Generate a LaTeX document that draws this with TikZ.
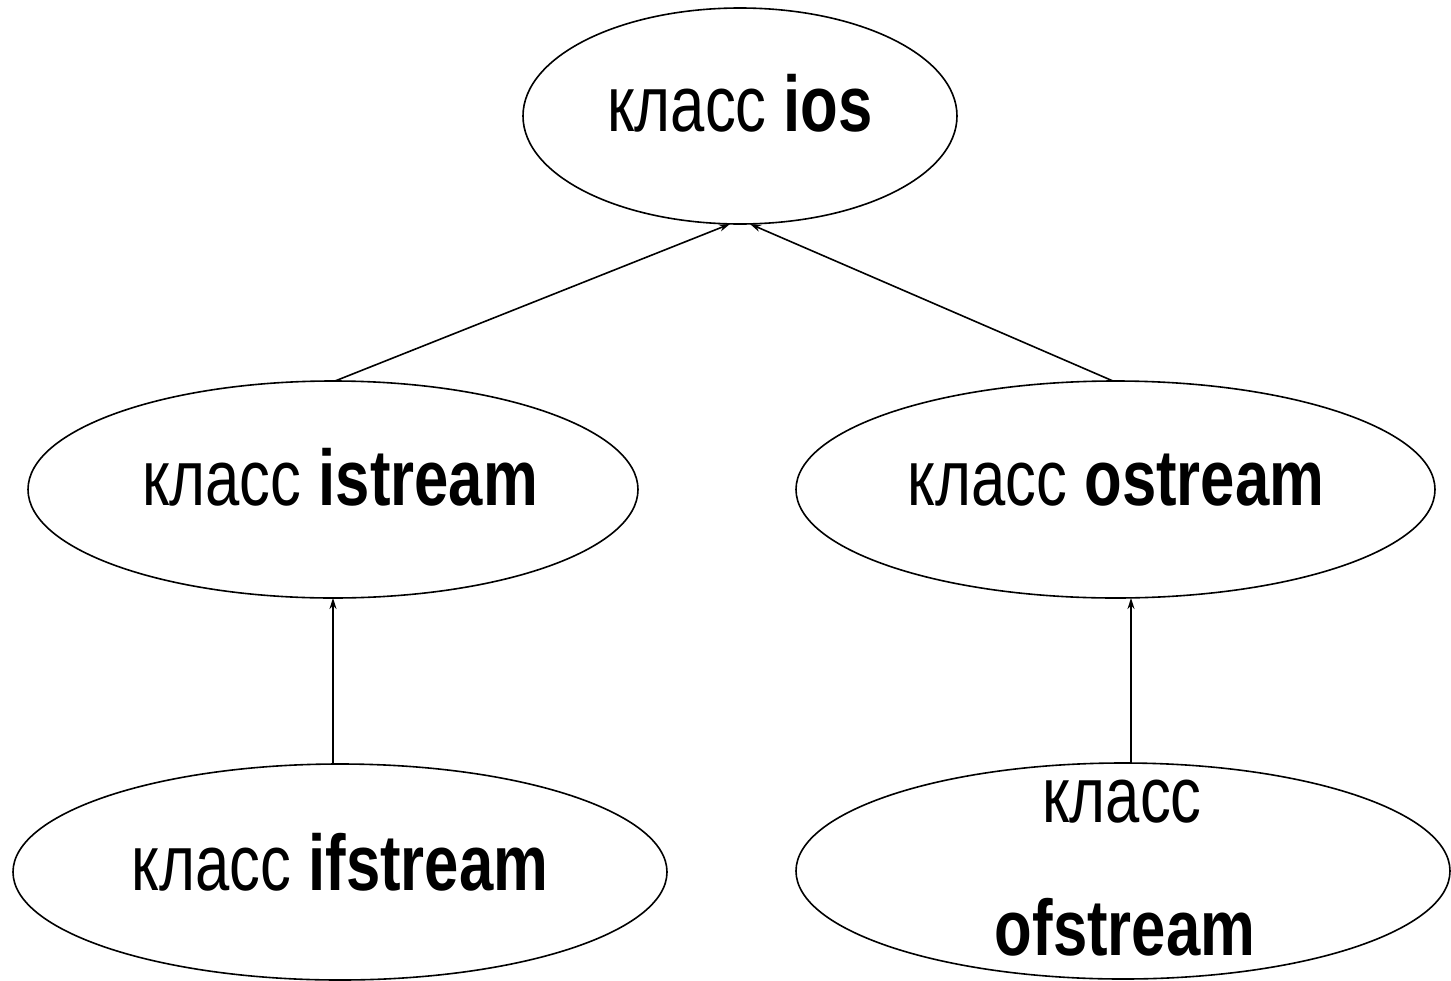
\documentclass[tikz,border=0pt]{standalone}
\usepackage{fontspec}
\setmainfont{Liberation Sans}
\newfontfamily\labfont[FakeStretch=0.78]{Liberation Sans}
\usetikzlibrary{shapes.geometric,arrows.meta}
\begin{document}
\begin{tikzpicture}[x=1pt,y=-1pt,
  oval/.style={draw=black, line width=1.6pt, ellipse, inner sep=0pt},
  lbl/.style={inner sep=0pt, anchor=base, font=\labfont\fontsize{79}{95}\selectfont},
  link/.style={line width=1.6pt, -{Stealth[length=11pt,width=7pt]}}]
\useasboundingbox (0,0) rectangle (1451,980);
\fill[white] (0,0) rectangle (1451,980);
\node[oval, minimum width=434pt, minimum height=216pt] (ios) at (740,116) {};
\node[oval, minimum width=610pt, minimum height=217pt] (istream) at (333,489.5) {};
\node[oval, minimum width=639pt, minimum height=217pt] (ostream) at (1115.5,489.5) {};
\node[oval, minimum width=654pt, minimum height=216pt] (ifstream) at (340,872) {};
\node[oval, minimum width=654pt, minimum height=216pt] (ofstream) at (1123,871) {};
\node[lbl] (tios) at (740,131) {класс \textbf{ios}};
\node[lbl] (tistream) at (340,505) {класс \textbf{istream}};
\node[lbl] (tostream) at (1116,505) {класс \textbf{ostream}};
\node[lbl] (tifstream) at (340,890) {класс \textbf{ifstream}};
\node[lbl] (tofa) at (1122,822) {класс};
\node[lbl] (tofb) at (1125,955) {\textbf{ofstream}};
\coordinate (iosL) at (730,224);
\coordinate (iosR) at (750,224);
\coordinate (isB) at (333,598);
\coordinate (isT) at (335,381);
\coordinate (osB) at (1131,598);
\coordinate (osT) at (1113,381);
\coordinate (ifT) at (333,765);
\coordinate (ofT) at (1131,763);
\draw[link] (isT) -- (iosL);
\draw[link] (osT) -- (iosR);
\draw[link] (ifT) -- (isB);
\draw[link] (ofT) -- (osB);
\end{tikzpicture}
\end{document}
